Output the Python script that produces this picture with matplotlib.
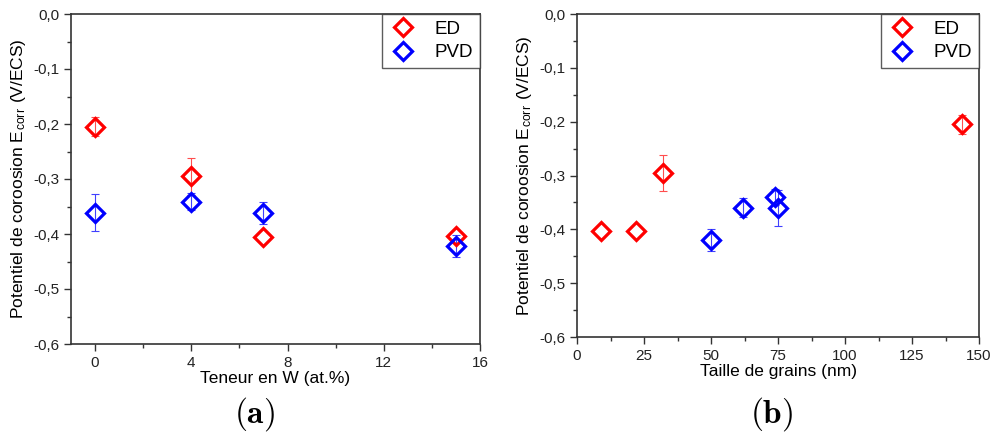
import numpy as np
import matplotlib.pyplot as plt
from matplotlib.ticker import MultipleLocator, FuncFormatter

plt.rcParams['font.family'] = ['Liberation Sans', 'DejaVu Sans']
plt.rcParams['mathtext.fontset'] = 'cm'

# (a) Ecorr vs W content
w_ed = [0, 4, 7, 15]
e_ed_a = [-0.205, -0.295, -0.405, -0.403]
err_ed_a = [0.017, 0.034, 0.0, 0.0]
w_pvd = [0, 4, 7, 15]
e_pvd_a = [-0.361, -0.341, -0.361, -0.421]
err_pvd_a = [0.033, 0.015, 0.02, 0.02]

# (b) Ecorr vs grain size
g_ed = [9, 22, 32, 143.5]
e_ed_b = [-0.403, -0.404, -0.295, -0.205]
err_ed_b = [0.0, 0.0, 0.034, 0.017]
g_pvd = [50, 62, 74, 75]
e_pvd_b = [-0.42, -0.36, -0.34, -0.36]
err_pvd_b = [0.02, 0.018, 0.015, 0.033]

fig = plt.figure(figsize=(9.9, 4.37), dpi=100)
W, H = 990, 437
ax1 = fig.add_axes([71 / W, 1 - 344 / H, (480 - 71) / W, (344 - 14) / H])
ax2 = fig.add_axes([577 / W, 1 - 337 / H, (979 - 577) / W, (337 - 14) / H])

comma = FuncFormatter(lambda v, p: ('%.1f' % v).replace('.', ','))


def series(ax, x, y, e, col, ecol, lab):
    x, y, e = np.array(x), np.array(y), np.array(e)
    m = e > 0
    ax.errorbar(x[m], y[m], yerr=e[m], fmt='none', ecolor=ecol, elinewidth=0.8,
                capsize=2.8, capthick=0.8, zorder=2)
    ax.plot(x, y, 'D', mfc='none', mec=col, ms=8.8, mew=2.3, zorder=3, label=lab)


def draw(ax, xe, ye, ee, xp, yp, ep):
    series(ax, xe, ye, ee, 'red', (1, 0.3, 0.3), 'ED')
    series(ax, xp, yp, ep, 'blue', (0.25, 0.25, 1), 'PVD')
    ax.set_ylim(-0.6, 0.0)
    ax.yaxis.set_major_locator(MultipleLocator(0.1))
    ax.yaxis.set_minor_locator(MultipleLocator(0.05))
    ax.yaxis.set_major_formatter(comma)
    ax.tick_params(which='major', direction='out', length=5, width=1, labelsize=11,
                   colors='#333333', labelcolor='#222222')
    ax.tick_params(which='minor', direction='out', length=3, width=1, colors='#333333')
    for s in ax.spines.values():
        s.set_linewidth(1.2)
        s.set_color('#333333')
    ax.set_ylabel('Potentiel de coroosion E$_{\\mathregular{corr}}$ (V/ECS)', fontsize=12.5, labelpad=4)
    leg = ax.legend(loc='upper right', fontsize=13.5, frameon=True, fancybox=False,
                    borderaxespad=0, handletextpad=0.9, borderpad=0.35, labelspacing=0.35,
                    handlelength=1.6)
    leg.get_frame().set_edgecolor('#333333')
    leg.get_frame().set_linewidth(1)


draw(ax1, w_ed, e_ed_a, err_ed_a, w_pvd, e_pvd_a, err_pvd_a)
ax1.set_xlim(-1, 16)
ax1.xaxis.set_major_locator(MultipleLocator(4))
ax1.xaxis.set_minor_locator(MultipleLocator(2))
ax1.set_xlabel('Teneur en W (at.%)', fontsize=12.5, labelpad=1)

draw(ax2, g_ed, e_ed_b, err_ed_b, g_pvd, e_pvd_b, err_pvd_b)
ax2.set_xlim(0, 150)
ax2.xaxis.set_major_locator(MultipleLocator(25))
ax2.xaxis.set_minor_locator(MultipleLocator(12.5))
ax2.set_xlabel('Taille de grains (nm)', fontsize=12.5, labelpad=1)

fig.text(254 / W, 1 - 414 / H, r'$\mathbf{(a)}$', fontsize=24, ha='center', va='center')
fig.text(772 / W, 1 - 414 / H, r'$\mathbf{(b)}$', fontsize=24, ha='center', va='center')

fig.savefig('out.png', dpi=100)
